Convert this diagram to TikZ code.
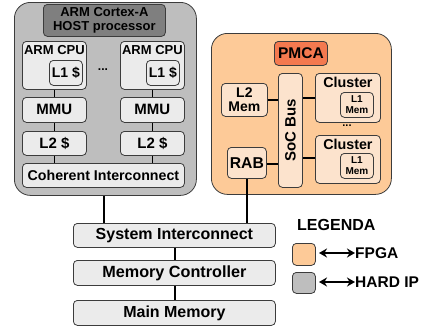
\documentclass[tikz,border=0pt]{standalone}
\usepackage{fontspec}
\setmainfont{Liberation Sans}
\usetikzlibrary{arrows.meta}
\definecolor{hostbg}{HTML}{BEBEBE}
\definecolor{hosttitle}{HTML}{7F7F7F}
\definecolor{lightbox}{HTML}{EBEBEB}
\definecolor{fpgabg}{HTML}{FDCA98}
\definecolor{fpgabox}{HTML}{FCE3CD}
\definecolor{pmcatitle}{HTML}{F4794F}
\definecolor{edge}{HTML}{3C3C3C}
\tikzset{
  bx/.style={draw=edge, line width=0.8pt, rounded corners=4pt, inner sep=0pt, font=\bfseries},
  gbx/.style={bx, fill=lightbox},
  obx/.style={bx, fill=fpgabox},
  ln/.style={line width=1.4pt, black},
  legarrow/.style={ln, {Stealth[length=8pt,width=9pt]}-{Stealth[length=8pt,width=9pt]}},
}
\begin{document}
\begin{tikzpicture}[x=1pt,y=-1pt]
\useasboundingbox (0,0) rectangle (429,327);
% HOST
\node[bx, fill=hostbg, rounded corners=16pt, minimum width=182, minimum height=193, anchor=north west] (host) at (14,2) {};
\node[bx, fill=hosttitle, minimum width=122, minimum height=32, anchor=north west, align=center, font=\bfseries\fontsize{13}{14}\selectfont] (htitle) at (43,4) {ARM Cortex-A\\HOST processor};
% CPUs
\node[gbx, minimum width=64, minimum height=48, anchor=north west] (cpu1) at (22,41) {};
\node[gbx, minimum width=64, minimum height=48, anchor=north west] (cpu2) at (120,41) {};
\node[font=\bfseries\fontsize{13}{14}\selectfont, anchor=north] (cpu1t) at ([yshift=-1]cpu1.north) {ARM CPU};
\node[font=\bfseries\fontsize{13}{14}\selectfont, anchor=north] (cpu2t) at ([yshift=-1]cpu2.north) {ARM CPU};
\node[gbx, minimum width=33, minimum height=25, anchor=north west, font=\bfseries\fontsize{14}{15}\selectfont] (l1a) at (49,60) {L1 \$};
\node[gbx, minimum width=33, minimum height=25, anchor=north west, font=\bfseries\fontsize{14}{15}\selectfont] (l1b) at (146,60) {L1 \$};
\node[font=\bfseries\fontsize{12}{12}\selectfont] (dots1) at (103,70) {...};
\node[gbx, minimum width=64, minimum height=25, anchor=north west, font=\bfseries\fontsize{15}{16}\selectfont] (mmu1) at (22,97) {MMU};
\node[gbx, minimum width=64, minimum height=25, anchor=north west, font=\bfseries\fontsize{15}{16}\selectfont] (mmu2) at (120,97) {MMU};
\node[gbx, minimum width=64, minimum height=24, anchor=north west, font=\bfseries\fontsize{15}{16}\selectfont] (l2a) at (22,131) {L2 \$};
\node[gbx, minimum width=64, minimum height=24, anchor=north west, font=\bfseries\fontsize{15}{16}\selectfont] (l2b) at (120,131) {L2 \$};
\node[gbx, minimum width=162, minimum height=24, anchor=north west, font=\bfseries\fontsize{14.2}{15}\selectfont] (coh) at (22,163) {Coherent Interconnect};
\foreach \a/\b in {cpu1/mmu1, mmu1/l2a, l2a/coh, cpu2/mmu2, mmu2/l2b}{
  \draw[ln] (\a.south) -- (\a.south |- \b.north);
}
\draw[ln] (l2b.south) -- (l2b.south |- coh.north);
% PMCA
\node[bx, fill=fpgabg, rounded corners=16pt, minimum width=180, minimum height=161, anchor=north west] (pmca) at (211,33) {};
\node[bx, fill=pmcatitle, minimum width=53, minimum height=24, anchor=north west, font=\bfseries\fontsize{15.5}{16}\selectfont] (ptitle) at (274,41) {PMCA};
\node[obx, minimum width=46, minimum height=33, anchor=north west, align=center, font=\bfseries\fontsize{14}{14}\selectfont] (l2mem) at (221,83) {L2\\Mem};
\node[obx, minimum width=24, minimum height=114, anchor=north west] (soc) at (278,73) {};
\node[rotate=90, font=\bfseries\fontsize{15}{16}\selectfont] (soct) at (soc.center) {SoC Bus};
\node[obx, minimum width=65, minimum height=49, anchor=north west] (cl1) at (315,73) {};
\node[obx, minimum width=65, minimum height=48, anchor=north west] (cl2) at (315,135) {};
\node[font=\bfseries\fontsize{14.3}{15}\selectfont, anchor=north] (cl1t) at ([yshift=-1]cl1.north) {Cluster};
\node[font=\bfseries\fontsize{14.3}{15}\selectfont, anchor=north] (cl2t) at ([yshift=-1]cl2.north) {Cluster};
\node[obx, minimum width=33, minimum height=25, anchor=north west, align=center, font=\bfseries\fontsize{10}{11}\selectfont] (m1) at (340,92) {L1\\Mem};
\node[obx, minimum width=33, minimum height=25, anchor=north west, align=center, font=\bfseries\fontsize{10}{11}\selectfont] (m2) at (340,153) {L1\\Mem};
\node[font=\bfseries\fontsize{11}{12}\selectfont] (dots2) at (347,126) {...};
\node[obx, minimum width=39, minimum height=31, anchor=north west, font=\bfseries\fontsize{15.7}{16}\selectfont] (rab) at (227,147) {RAB};
\draw[ln] (l2mem.east) -- (l2mem.east -| soc.west);
\draw[ln] ([yshift=-1]rab.east) -- ([yshift=-1]rab.east -| soc.west);
\draw[ln] (soc.east |- 0,98) -- (cl1.west |- 0,98);
\draw[ln] (soc.east |- 0,158) -- (cl2.west |- 0,158);
% bottom
\node[gbx, minimum width=202, minimum height=24, anchor=north west, font=\bfseries\fontsize{16}{17}\selectfont] (sys) at (73,223) {System Interconnect};
\node[gbx, minimum width=202, minimum height=25, anchor=north west, font=\bfseries\fontsize{16.2}{17}\selectfont] (memc) at (73,260) {Memory Controller};
\node[gbx, minimum width=202, minimum height=25, anchor=north west, font=\bfseries\fontsize{16}{17}\selectfont] (mainm) at (73,300) {Main Memory};
\draw[ln] (host.south -| 104,0) -- (sys.north -| 104,0);
\draw[ln] (rab.south -| 247,0) -- (sys.north -| 247,0);
\draw[ln] (sys.south -| 175,0) -- (memc.north -| 175,0);
\draw[ln] (memc.south -| 175,0) -- (mainm.north -| 175,0);
% legend
\node[font=\bfseries\fontsize{16}{17}\selectfont, anchor=west, inner sep=0pt] (leg) at (297,225) {LEGENDA};
\node[bx, fill=fpgabg, minimum width=23, minimum height=22, anchor=north west] (sw1) at (292,243) {};
\node[bx, fill=hostbg, minimum width=23, minimum height=21, anchor=north west] (sw2) at (292,272) {};
\coordinate (a1s) at (319,253);
\coordinate (a1e) at (355,253);
\coordinate (a2s) at (319,282);
\coordinate (a2e) at (355,282);
\draw[legarrow] (a1s) -- (a1e);
\draw[legarrow] (a2s) -- (a2e);
\node[font=\bfseries\fontsize{15.5}{16}\selectfont, anchor=west, inner sep=0pt] (fpga) at (355,253) {FPGA};
\node[font=\bfseries\fontsize{15.5}{16}\selectfont, anchor=west, inner sep=0pt] (hard) at (355,282) {HARD IP};
\end{tikzpicture}
\end{document}
